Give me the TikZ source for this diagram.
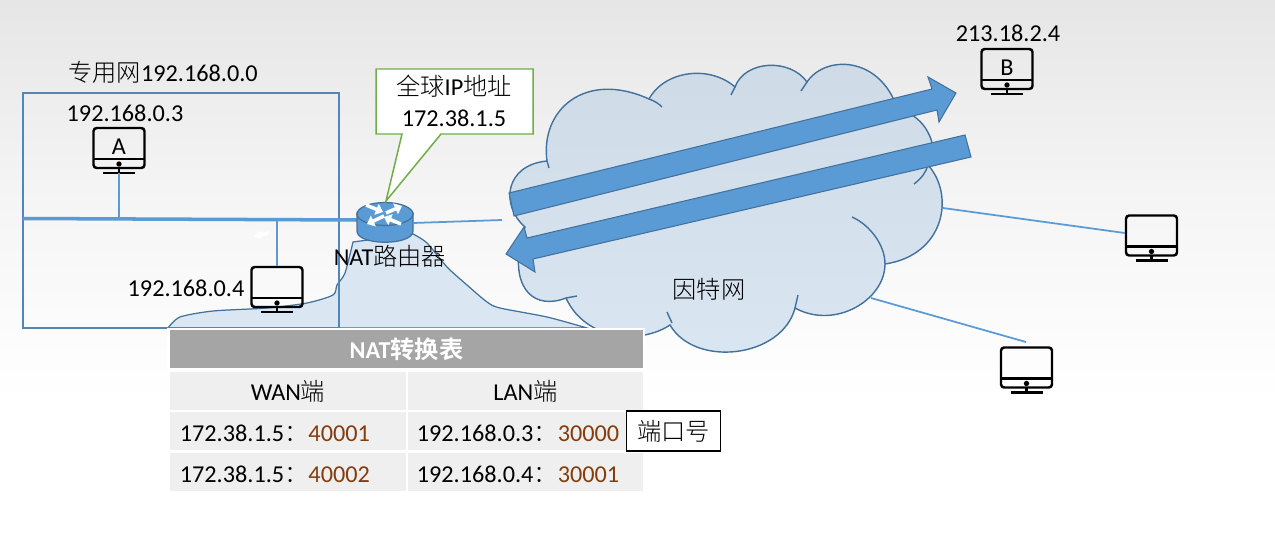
\documentclass[tikz,border=0pt]{standalone}
\usepackage{fontspec}
\usepackage{xcolor}
\usetikzlibrary{shapes.geometric, arrows.meta}
\setmainfont{Carlito}
\newfontfamily\cjk{Noto Sans CJK SC Light}[BoldFont={Noto Sans CJK SC Bold}]
\newcommand{\zh}[1]{{\cjk #1}}

\definecolor{linkblue}{HTML}{5B9BD5}
\definecolor{edgeblue}{HTML}{41719C}
\definecolor{netblue}{HTML}{5585B5}
\definecolor{cloudtop}{HTML}{CEDBE7}
\definecolor{cloudbot}{HTML}{DAE6F2}
\definecolor{hillblue}{HTML}{DAE6F2}
\definecolor{tipgreen}{HTML}{70AD47}
\definecolor{headgray}{HTML}{A5A5A5}
\definecolor{cellgray}{HTML}{EFEFEF}
\definecolor{portbrown}{HTML}{843C0C}
\definecolor{walltop}{HTML}{E6E6E6}
\definecolor{wallmid}{HTML}{F5F5F5}

\tikzset{
    every node/.style={font=\fontsize{13.8}{18}\selectfont, inner sep=0pt},
    link/.style={draw=linkblue, line width=1pt},
    drop/.style={draw=linkblue, line width=1.3pt},
    bigarrow/.style={fill=linkblue, draw=edgeblue, line width=0.6pt, line join=miter},
    cloudline/.style={draw=edgeblue, line width=0.8pt},
    turn/.style={draw=white, line width=2pt, -{Triangle[length=4pt,width=6.5pt]}},
    cellbox/.style={fill=cellgray, minimum height=0.76cm, minimum width=#1},
    celltext/.style={anchor=west},
    screen/.style={draw=black, line width=1.4pt, rounded corners=1.8pt,
        minimum width=1.02cm, minimum height=0.8cm},
    pics/monitor/.style={code={
        \node[screen] (-box) at (0,0) {};
        \draw[line width=1.3pt] (-25.5,11) -- (25.5,11);
        \fill (0,16) circle (1.5pt);
        \draw[line width=1.4pt] (0,20) -- (0,25);
        \draw[line width=1.4pt] (-16,25) -- (16,25);
        \coordinate (-base) at (0,25);
        \node at (0,-1) {#1};
    }}
}

\begin{document}
\begin{tikzpicture}[x=0.02cm, y=-0.02cm]
    \useasboundingbox (0,0) rectangle (1275,541);
    \fill[white] (0,0) rectangle (1275,541);
    \shade[top color=walltop, bottom color=wallmid] (0,0) rectangle (1275,200);
    \shade[top color=wallmid, bottom color=white] (0,199.5) rectangle (1275,400);

    % callout hill under the router
    \draw[fill=hillblue, draw=edgeblue, line width=0.7pt]
        plot[smooth, tension=0.45] coordinates {(168,328) (180,317) (213,311) (267,308) (307,303)
            (333,295) (337,285) (345,273) (353,242)}
        -- plot[smooth, tension=0.45] coordinates {(413,234) (427,243) (447,267) (467,285) (487,302)
            (500,308) (547,317) (587,328)} -- cycle;

    % private network
    \draw[draw=netblue, line width=0.85pt] (23,93) rectangle (339,328);
    \node (netname) at (163,72) {\zh{专用网}192.168.0.0};

    \pic (hostA) at (119,148) {monitor={A}};
    \node (ipA) at (125,113) {192.168.0.3};
    \pic (hostC) at (277,287) {monitor={}};
    \node (ipC) at (186,288) {192.168.0.4};
    \pic (hostB) at (1007,69) {monitor={B}};
    \node (ipB) at (1008,33) {213.18.2.4};
    \pic (hostD) at (1151.5,235.5) {monitor={}};
    \pic (hostE) at (1026.5,367.5) {monitor={}};

    % router
    \coordinate (busL) at (23,218.5);
    \coordinate (routerW) at (358,220);
    \coordinate (routerE) at (413,223);
    \coordinate (busA) at (119,219);
    \coordinate (busC) at (277,220);
    \draw[link, line width=2pt] (busL) -- (routerW);
    \draw[drop] (hostA-base) -- (busA);
    \draw[drop] (hostC-box.north) -- (busC);
    \fill[white] (254,236) -- (261,231) -- (261,233) -- (268,231) -- (268,235) -- (261,237) -- (260,239) -- cycle;

    \draw[fill=linkblue, draw=edgeblue, line width=0.7pt] (357,213) -- (357,231)
        .. controls (357,246) and (413,246) .. (413,231) -- (413,213) -- cycle;
    \node[ellipse, fill=linkblue, draw=edgeblue, line width=0.7pt, minimum width=1.12cm,
        minimum height=0.46cm] (router) at (385,214) {};
    \draw[turn] (366,205) -- (383,212);
    \draw[turn] (386,213) -- (402,206);
    \draw[turn] (384,216) -- (367,224);
    \draw[turn] (401,224) -- (384,217);
    \node (routername) at (390,256) {NAT\zh{路由器}};

    % callout with the global address
    \draw[fill=white, draw=tipgreen, line width=0.85pt] (376,69) -- (533,69) -- (533,134) -- (441,134)
        -- (386,201) -- (402,134) -- (376,134) -- cycle;
    \node[align=center] (globalip) at (454,101) {\zh{全球}IP\zh{地址}\\172.38.1.5};

    % internet
    \draw[cloudline, top color=cloudtop, bottom color=cloudbot]
        (525,227) .. controls (500,205) and (505,165) .. (547,161)
        .. controls (540,110) and (585,70) .. (649,99)
        .. controls (665,70) and (710,65) .. (735,87)
        .. controls (745,60) and (790,58) .. (807,82)
        .. controls (825,55) and (880,55) .. (898,110)
        .. controls (915,112) and (935,130) .. (934,160)
        -- (928,165)
        .. controls (955,195) and (945,255) .. (885,264)
        .. controls (885,300) and (835,330) .. (795,308)
        .. controls (782,358) and (695,368) .. (670,325)
        .. controls (640,345) and (585,340) .. (566,298)
        .. controls (535,310) and (512,290) .. (520,245) -- cycle;
    \draw[cloudline] (547,161) -- (549,168);
    \draw[cloudline] (649,99) .. controls (655,101) and (659,104) .. (662,107);
    \draw[cloudline] (735,87) -- (731,95);
    \draw[cloudline] (807,82) -- (801,91);
    \draw[cloudline] (914,184) .. controls (922,178) and (926,172) .. (928,165);
    \draw[cloudline] (852,217) .. controls (870,225) and (885,245) .. (885,264);
    \draw[cloudline] (798,295) -- (795,308);
    \draw[cloudline] (667,312) -- (672,323);
    \draw[cloudline] (566,298) -- (577,296);
    \node (netcloud) at (709,289) {\zh{因特网}};

    \coordinate (cloudW) at (502,220);
    \coordinate (cloudE) at (943,208);
    \coordinate (cloudS) at (871,298);
    \coordinate (hostEtop) at (1026,342);
    \draw[link] (routerE) -- (cloudW);
    \draw[link] (cloudE) -- (hostD-box.west |- 0,233);
    \draw[link] (cloudS) -- (hostEtop);

    \draw[bigarrow] (509,193) -- (932,89) -- (928,77) -- (956,93) -- (939,122) -- (937,110) -- (514,216) -- cycle;
    \draw[bigarrow] (965,135) -- (527,238) -- (524,227) -- (506,254) -- (535,272) -- (533,259) -- (971,157) -- cycle;

    % translation table
    \fill[white] (167,328) rectangle (645,370);
    \node[fill=headgray, minimum width=9.48cm, minimum height=0.76cm, text=white, font=\fontsize{13.8}{18}\selectfont\bfseries]
        (tablehead) at (406.5,349) {NAT\zh{转换表}};
    \node[cellbox=4.72cm] (wanhead) at (288,391) {WAN\zh{端}};
    \node[cellbox=4.72cm] (lanhead) at (525.5,391) {LAN\zh{端}};
    \node[cellbox=4.72cm] (wanA) at (288,431) {};
    \node[cellbox=4.72cm] (lanA) at (525.5,431) {};
    \node[cellbox=4.72cm] (wanB) at (288,472) {};
    \node[cellbox=4.72cm] (lanB) at (525.5,472) {};
    \node[celltext] at (179.5,433) {172.38.1.5\zh{：}\textcolor{portbrown}{40001}};
    \node[celltext] at (416.5,433) {192.168.0.3\zh{：}\textcolor{portbrown}{30000}};
    \node[celltext] at (179.5,474) {172.38.1.5\zh{：}\textcolor{portbrown}{40002}};
    \node[celltext] at (416.5,474) {192.168.0.4\zh{：}\textcolor{portbrown}{30001}};
    \node[draw=black, fill=white, line width=0.7pt, minimum width=1.88cm, minimum height=0.8cm]
        (portname) at (673.5,431) {\zh{端口号}};
\end{tikzpicture}
\end{document}
